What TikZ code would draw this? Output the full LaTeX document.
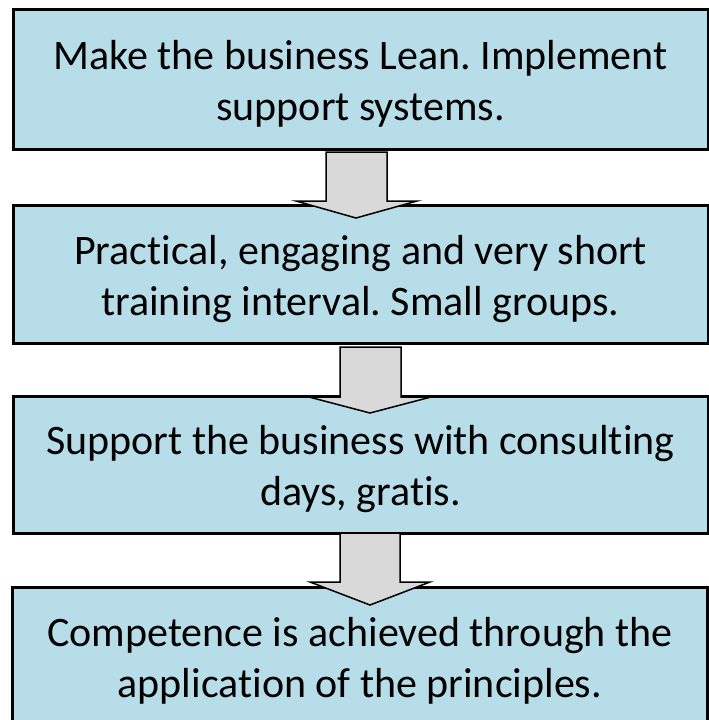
\documentclass[tikz,border=0pt]{standalone}
\usepackage{fontspec}
\setmainfont{Carlito}[Ligatures=NoCommon]
\usetikzlibrary{calc}
\definecolor{boxblue}{HTML}{B7DDE8}
\definecolor{arrowgray}{HTML}{D9D9D9}
\frenchspacing
\begin{document}
\begin{tikzpicture}[x=1pt,y=-1pt,
  box/.style={draw=black, line width=3pt, fill=boxblue, minimum width=695pt, inner sep=0pt},
  boxtext/.style={inner sep=0pt, align=center, font=\fontsize{42}{51}\selectfont},
  blockarrow/.style={draw=black, line width=1.5pt, fill=arrowgray, line join=miter}]
\clip (0,0) rectangle (709,720);
\fill[white] (0,0) rectangle (709,720);
\node[box, minimum height=140pt] (b1) at (360.5,79) {};
\node[box, minimum height=138pt] (b2) at (360.5,274) {};
\node[box, minimum height=137pt] (b3) at (360.5,464.5) {};
\node[box, minimum height=138pt] (b4) at (360,656) {};
\node[boxtext] (t1) at ($(b1.center)+(0,5)$) {Make the business Lean. Implement\\support systems.};
\node[boxtext] (t2) at ($(b2.center)+(0,5)$) {Practical, engaging and very short\\training interval. Small groups.};
\node[boxtext] (t3) at ($(b3.center)+(0,5)$) {Support the business with consulting\\days, gratis.};
\node[boxtext] (t4) at ($(b4.center)+(0,5)$) {Competence is achieved through the\\application of the principles.};
\draw[blockarrow] (326,152) -- (387,152) -- (387,201) -- (417,201) -- (356,218) -- (296,201) -- (326,201) -- cycle;
\draw[blockarrow] (340,347) -- (401,347) -- (401,397) -- (431,397) -- (370,413) -- (309,397) -- (340,397) -- cycle;
\draw[blockarrow] (340,533) -- (400,533) -- (400,582) -- (430,582) -- (370,605) -- (310,582) -- (340,582) -- cycle;
\end{tikzpicture}
\end{document}
